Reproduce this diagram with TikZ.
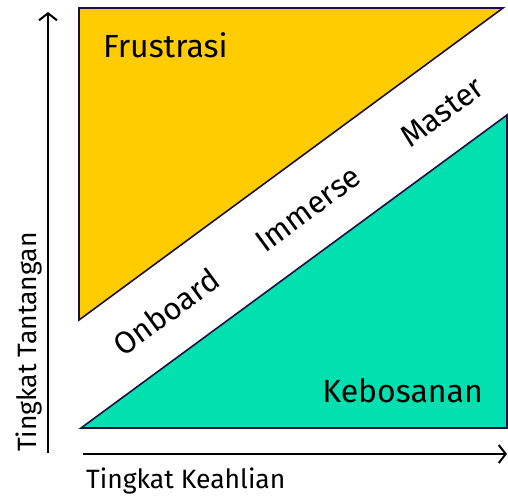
\documentclass[tikz,border=0pt]{standalone}
\usepackage{fontspec}
\setmainfont{Fira Sans}
\usetikzlibrary{arrows.meta}
\definecolor{yel}{HTML}{FFCC00}
\definecolor{tea}{HTML}{03E0B0}
\definecolor{edge}{HTML}{1A1040}
\begin{document}
\begin{tikzpicture}[x=1pt,y=-1pt,
  tri/.style={draw=edge,line width=1.6pt,line join=miter},
  axis/.style={line width=2pt,-{Straight Barb[length=7pt,width=18pt,line width=2pt]}},
  big/.style={font=\fontsize{32}{32}\selectfont,inner sep=0pt},
  diag/.style={font=\fontsize{31}{31}\selectfont,inner sep=0pt,rotate=36.3},
  axlab/.style={font=\fontsize{26.5}{26.5}\selectfont,inner sep=0pt}]
\useasboundingbox (0,0) rectangle (508,495);
\fill[white] (0,0) rectangle (508,495);
\filldraw[tri,fill=yel] (79,8) -- (503,8) -- (79,320) -- cycle;
\filldraw[tri,fill=tea] (81,428) -- (507,428) -- (507,115) -- cycle;
\coordinate (ybot) at (48,453);
\coordinate (ytop) at (48,12);
\coordinate (xl) at (83,454);
\coordinate (xr) at (507,454);
\draw[axis] (ybot) -- (ytop);
\draw[axis] (xl) -- (xr);
\node[big,anchor=base west] (fr) at (103,57) {Frustrasi};
\node[big,anchor=base east] (kb) at (483,402) {Kebosanan};
\node[diag] (on) at (166,312) {Onboard};
\node[diag] (im) at (308,209) {Immerse};
\node[diag] (ma) at (442,112) {Master};
\node[axlab,anchor=base west] (xlab) at (86,488) {Tingkat Keahlian};
\node[axlab,anchor=base west,rotate=90] (ylab) at (36,452) {Tingkat Tantangan};
\end{tikzpicture}
\end{document}
